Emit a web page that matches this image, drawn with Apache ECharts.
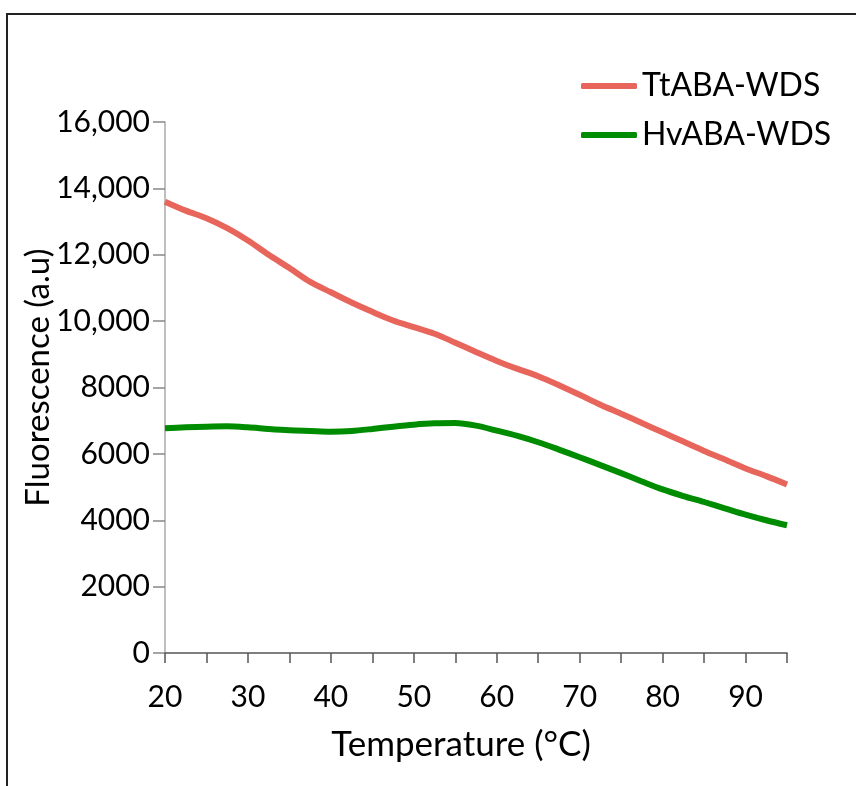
<!DOCTYPE html>
<html>
<head>
<meta charset="utf-8">
<script src="https://cdn.jsdelivr.net/npm/echarts@6/dist/echarts.min.js"></script>
<style>
  body { margin: 0; background: #fff; overflow: hidden; }
  #frame { position: absolute; left: 6px; top: 13px; width: 1000px; height: 1000px; border: 2px solid #222; }
  #main { position: absolute; left: 0; top: 0; width: 856px; height: 786px; }
</style>
</head>
<body>
<div id="frame"></div>
<div id="main"></div>
<script>
// temperature grid (°C)
const temps = [20, 22.5, 25, 27.5, 30, 32.5, 35, 37.5, 40, 42.5, 45, 47.5, 50, 52.5, 55, 57.5,
  60, 62.5, 65, 67.5, 70, 72.5, 75, 77.5, 80, 82.5, 85, 87.5, 90, 92.5, 95];
// fluorescence readings (a.u)
const ttaba = [13600, 13330, 13100, 12800, 12430, 12000, 11600, 11180, 10870, 10560, 10280, 10020,
  9820, 9620, 9350, 9070, 8800, 8560, 8340, 8070, 7780, 7480, 7210, 6930, 6650, 6370, 6090,
  5830, 5560, 5330, 5080];
const hvaba = [6770, 6800, 6820, 6830, 6800, 6750, 6710, 6690, 6670, 6690, 6750, 6820, 6880,
  6920, 6930, 6850, 6700, 6540, 6350, 6130, 5900, 5660, 5420, 5170, 4930, 4730, 4550, 4360,
  4170, 4000, 3850];
const seriesNames = ["TtABA-WDS", "HvABA-WDS"];
const colors = ["#e8655c", "#008c00"];

const font = "Lato";
let chart = echarts.init(document.getElementById("main"));

function pairs(ys) {
  return temps.map((t, i) => [t, ys[i]]);
}

let option = {
  animation: false,
  textStyle: { fontFamily: font, color: "#000" },
  grid: { left: 165, top: 122, right: 69, bottom: 133, containLabel: false, outerBoundsMode: "none" },
  legend: {
    orient: "vertical",
    left: 576,
    top: 65,
    itemWidth: 56,
    itemHeight: 6,
    itemGap: 17,
    icon: "roundRect",
    textStyle: { fontFamily: font, fontSize: 32, color: "#000" },
    data: seriesNames
  },
  xAxis: {
    type: "value",
    min: 20,
    max: 95,
    interval: 5,
    name: "Temperature (°C)",
    nameLocation: "middle",
    nameGap: 74,
    nameMoveOverlap: false,
    nameTextStyle: { fontFamily: font, fontSize: 35, color: "#000", padding: [0, 30, 0, 0] },
    axisLine: { lineStyle: { color: "#555", width: 1.5 } },
    axisTick: { show: true, length: 10, lineStyle: { color: "#555", width: 1.5 } },
    axisLabel: {
      margin: 29,
      fontSize: 30,
      color: "#000",
      formatter: v => (v % 10 === 0 && v < 95 ? String(v) : "")
    },
    splitLine: { show: false }
  },
  yAxis: {
    type: "value",
    min: 0,
    max: 16000,
    interval: 2000,
    name: "Fluorescence (a.u)",
    nameLocation: "middle",
    nameGap: 110,
    nameMoveOverlap: false,
    nameRotate: 90,
    nameTextStyle: { fontFamily: font, fontSize: 33, color: "#000", padding: [0, 0, 0, 20] },
    axisLine: { show: true, lineStyle: { color: "#aaa", width: 1.5 } },
    axisTick: { show: true, length: 12, lineStyle: { color: "#888", width: 1.5 } },
    axisLabel: {
      margin: 15,
      fontSize: 30,
      color: "#000",
      formatter: v => (v >= 10000 ? v.toLocaleString("en-US") : String(v))
    },
    splitLine: { show: false }
  },
  series: [
    {
      name: seriesNames[0],
      type: "line",
      data: pairs(ttaba),
      showSymbol: false,
      smooth: 0.3,
      itemStyle: { color: colors[0] },
      lineStyle: { color: colors[0], width: 6 }
    },
    {
      name: seriesNames[1],
      type: "line",
      data: pairs(hvaba),
      showSymbol: false,
      smooth: 0.3,
      itemStyle: { color: colors[1] },
      lineStyle: { color: colors[1], width: 6 }
    }
  ]
};
chart.setOption(option);
</script>
</body>
</html>
